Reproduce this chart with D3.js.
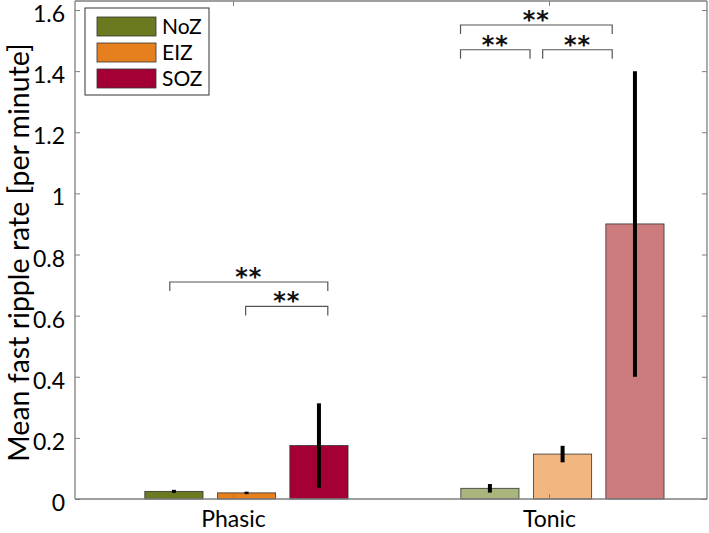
<!DOCTYPE html>
<html><head><meta charset="utf-8">
<script src="https://cdn.jsdelivr.net/npm/d3@7"></script>
<style>body{margin:0;background:#fff}svg{display:block}</style>
</head><body>
<script>
const categories = ["Phasic", "Tonic"];
const zones = ["NoZ", "EIZ", "SOZ"];
const meanPhasic = [0.025, 0.02, 0.175];
const errPhasic = [0.005, 0.004, 0.138];
const meanTonic = [0.035, 0.147, 0.9];
const errTonic = [0.014, 0.027, 0.5];
const yTicks = [0, 0.2, 0.4, 0.6, 0.8, 1, 1.2, 1.4, 1.6];
const colorsPhasic = ["#6b7a1f", "#e6801f", "#a50034"];
const colorsTonic = ["#a8b57c", "#f2b681", "#cd7c7e"];
// significance brackets: [x1, x2, y] in data units
const sigX1 = [0.80, 1.04, 1.72, 1.72, 1.98];
const sigX2 = [1.30, 1.30, 2.20, 1.94, 2.20];
const sigY = [0.71, 0.63, 1.551, 1.47, 1.47];
const sigLabel = ["**", "**", "**", "**", "**"];

const W = 709, H = 533;
const m = {l: 75, t: 1, r: 2, b: 34};
const svg = d3.select("body").append("svg").attr("width", W).attr("height", H);
const font = "Lato, 'Open Sans', sans-serif";
const x = d3.scaleLinear().domain([0.5, 2.5]).range([m.l, W - m.r]);
const y = d3.scaleLinear().domain([0, 1.6]).range([H - m.b, 10]);
const barOffsets = [-0.187, 0.043, 0.272];
const barW = 0.184;

const groups = [
  {cat: categories[0], mean: meanPhasic, err: errPhasic, col: colorsPhasic},
  {cat: categories[1], mean: meanTonic, err: errTonic, col: colorsTonic}
];
const bars = [];
groups.forEach((g, gi) => zones.forEach((z, zi) => bars.push({
  xc: gi + 1 + barOffsets[zi], v: g.mean[zi], e: g.err[zi], c: g.col[zi]
})));

svg.append("g").selectAll("rect").data(bars).join("rect")
  .attr("x", d => x(d.xc - barW / 2)).attr("width", x(barW) - x(0))
  .attr("y", d => y(d.v)).attr("height", d => y(0) - y(d.v))
  .attr("fill", d => d.c).attr("stroke", "#333").attr("stroke-width", 0.8);

svg.append("g").selectAll("line").data(bars).join("line")
  .attr("x1", d => x(d.xc)).attr("x2", d => x(d.xc))
  .attr("y1", d => y(d.v + d.e)).attr("y2", d => y(d.v - d.e))
  .attr("stroke", "#000").attr("stroke-width", 4);

// axes
const axCol = "#7f7f7f";
const gL = svg.append("g").attr("transform", `translate(${m.l},0)`)
  .call(d3.axisLeft(y).tickValues(yTicks).tickSize(-5).tickPadding(10).tickFormat(d3.format("")));
const gR = svg.append("g").attr("transform", `translate(${W - m.r},0)`)
  .call(d3.axisRight(y).tickValues(yTicks).tickSize(-5).tickFormat(""));
const gB = svg.append("g").attr("transform", `translate(0,${H - m.b})`)
  .call(d3.axisBottom(x).tickValues([1, 2]).tickSize(-5).tickPadding(12).tickFormat((d, i) => categories[i]));
const gT = svg.append("g").attr("transform", `translate(0,${y(1.6) - 9})`)
  .call(d3.axisTop(x).tickValues([1, 2]).tickSize(-5).tickFormat(""));
[gL, gR, gB, gT].forEach(g => {
  g.selectAll("path.domain").attr("stroke", axCol).attr("stroke-width", 1.3);
  g.selectAll(".tick line").attr("stroke", axCol);
  g.selectAll("text").attr("font-family", font).attr("font-size", 23).attr("fill", "#000");
});
gL.selectAll(".tick text").attr("dy", "0.5em");
gL.select("path.domain").attr("d", `M0,${y(0)}V${y(1.6) - 9}`);
gR.select("path.domain").attr("d", `M0,${y(0)}V${y(1.6) - 9}`);
gB.select("path.domain").attr("d", `M${m.l},0H${W - m.r}`);
gT.select("path.domain").attr("d", `M${m.l},0H${W - m.r}`);

svg.append("text").attr("transform", `translate(29,${(y(0) + y(1.6)) / 2 - 2}) rotate(-90)`)
  .attr("text-anchor", "middle").attr("font-family", font).attr("font-size", 28.5)
  .text("Mean fast ripple rate [per minute]");

// significance
const sg = svg.append("g");
sigX1.forEach((x1, i) => {
  const x2 = sigX2[i], yy = y(sigY[i]);
  sg.append("path").attr("d", `M${x(x1)},${yy + 9}V${yy}H${x(x2)}V${yy + 9}`)
    .attr("fill", "none").attr("stroke", "#555").attr("stroke-width", 1.2);
  sg.append("text").attr("x", (x(x1) + x(x2)) / 2).attr("y", yy + 3)
    .attr("text-anchor", "middle").attr("font-family", "'DejaVu Sans', sans-serif")
    .attr("font-size", 24).attr("font-weight", "bold").attr("letter-spacing", 1).attr("fill", "#111").text(sigLabel[i]);
});

// legend
const lg = svg.append("g").attr("transform", "translate(85,8)");
lg.append("rect").attr("width", 124).attr("height", 87).attr("fill", "#fff").attr("stroke", "#333").attr("stroke-width", 1);
zones.forEach((z, i) => {
  lg.append("rect").attr("x", 12).attr("y", 9 + i * 26).attr("width", 59).attr("height", 19)
    .attr("fill", colorsPhasic[i]).attr("stroke", "#333").attr("stroke-width", 0.8);
  lg.append("text").attr("x", 77).attr("y", 26 + i * 26).attr("font-family", font).attr("font-size", 21).text(z);
});
</script>
</body></html>
